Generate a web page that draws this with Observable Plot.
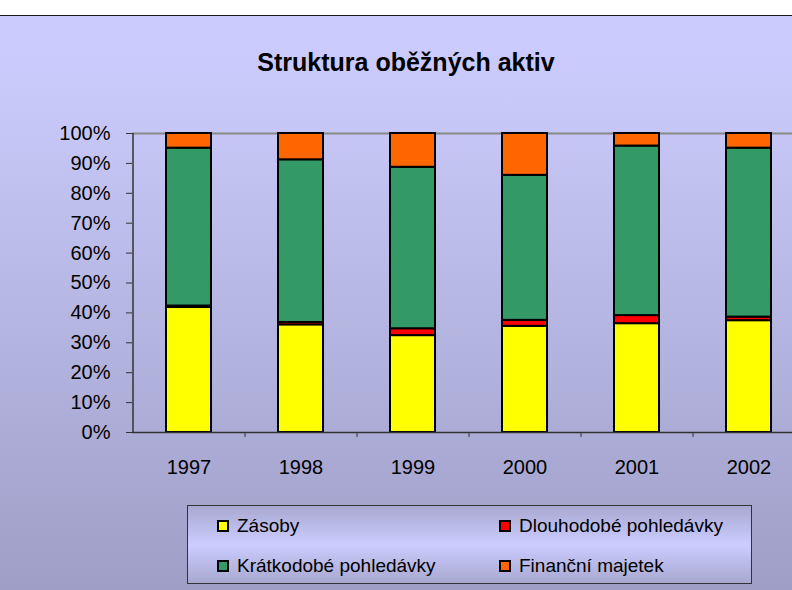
<!DOCTYPE html>
<html>
<head>
<meta charset="utf-8">
<script src="https://cdn.jsdelivr.net/npm/d3@7"></script>
<script src="https://cdn.jsdelivr.net/npm/@observablehq/plot@0.6"></script>
<style>
  html, body { margin: 0; padding: 0; }
  body { width: 792px; height: 590px; overflow: hidden; position: relative; font-family: "Liberation Sans", Arial, sans-serif; background: #fff; }
  #topstrip { position: absolute; left: 0; top: 0; width: 792px; height: 15px; background: #fff; border-bottom: 1px solid #1a1a1a; }
  #bg { position: absolute; left: 0; top: 16px; width: 792px; height: 574px; background: linear-gradient(#ccccff, #c6c6f6 20%, #9e9ec6); }
  #title { position: absolute; top: 48px; left: 406px; transform: translateX(-50%); font-size: 25px; font-weight: bold; white-space: nowrap; color: #000; }
  #chart { position: absolute; left: 0; top: 0; }
  #legend { position: absolute; left: 187px; top: 505px; width: 563px; height: 77px; border: 1px solid #333; background: linear-gradient(#a8a8d0, #ccccff 50%, #a8a8d0); }
  .item { position: absolute; font-size: 19px; white-space: nowrap; color: #000; display: flex; align-items: center; }
  .sw { width: 8px; height: 8px; border: 2px solid #000; margin-right: 8px; }
</style>
</head>
<body>
<div id="topstrip"></div>
<div id="bg"></div>
<div id="title">Struktura oběžných aktiv</div>
<div id="chart"></div>
<div id="legend"></div>
<script>
const years = ["1997", "1998", "1999", "2000", "2001", "2002"];
const series = ["Zásoby", "Dlouhodobé pohledávky", "Krátkodobé pohledávky", "Finanční majetek"];
const zasoby      = [41.8, 36.0, 32.4, 35.5, 36.4, 37.4];
const dlouhodobe  = [0.5, 0.8, 2.3, 2.0, 2.7, 1.2];
const kratkodobe  = [52.8, 54.4, 54.0, 48.5, 56.7, 56.5];
const financni    = [4.9, 8.8, 11.3, 14.0, 4.2, 4.9];
const colors = ["#ffff00", "#ff0000", "#339966", "#ff6600"];
const yTicks = [0, 10, 20, 30, 40, 50, 60, 70, 80, 90, 100];

const seriesValues = [zasoby, dlouhodobe, kratkodobe, financni];
const data = series.flatMap((s, si) => years.map((y, yi) => ({year: y, series: s, value: seriesValues[si][yi]})));

const W = 792, H = 480, mL = 132, mR = -12, mT = 133, mB = 48;
const step = (W - mL - mR) / years.length;

const chart = Plot.plot({
  width: W, height: H,
  marginLeft: mL, marginRight: mR, marginTop: mT, marginBottom: mB,
  style: {fontFamily: "'Liberation Sans', Arial, sans-serif", background: "transparent", color: "#000", overflow: "hidden"},
  x: {type: "band", domain: years, paddingInner: 0.6, paddingOuter: 0.3, axis: null, label: null},
  y: {domain: [0, 100], axis: null, label: null},
  color: {domain: series, range: colors},
  marks: [
    Plot.ruleY([100], {stroke: "#888", strokeWidth: 2}),
    Plot.barY(data, {x: "year", y: "value", fill: "series", stroke: "#000", strokeWidth: 2}),
    Plot.ruleY([0], {stroke: "#333", strokeWidth: 1.5}),
    Plot.ruleX([years[0]], {x: d => d, dx: -step / 2, y1: 0, y2: 100, stroke: "#333", strokeWidth: 1.5}),
    Plot.axisY({ticks: yTicks, tickFormat: d => d + "%", tickSize: 6, tickPadding: 16, fontSize: 20, stroke: "#333", fill: "#000", label: null}),
    Plot.axisX({tickSize: 0, tickPadding: 27, fontSize: 20, fill: "#000", label: null}),
    Plot.axisX({tickSize: 5, dx: step / 2, tickFormat: () => "", stroke: "#333", label: null})
  ]
});
document.getElementById("chart").appendChild(chart);

// legend
const legend = document.getElementById("legend");
const pos = [
  {left: 29, top: 9},
  {left: 311, top: 9},
  {left: 29, top: 49},
  {left: 311, top: 49}
];
series.forEach((s, i) => {
  const it = document.createElement("div");
  it.className = "item";
  it.style.left = pos[i].left + "px";
  it.style.top = pos[i].top + "px";
  const sw = document.createElement("div");
  sw.className = "sw";
  sw.style.background = colors[i];
  it.appendChild(sw);
  const t = document.createElement("span");
  t.textContent = s;
  it.appendChild(t);
  legend.appendChild(it);
});
</script>
</body>
</html>
